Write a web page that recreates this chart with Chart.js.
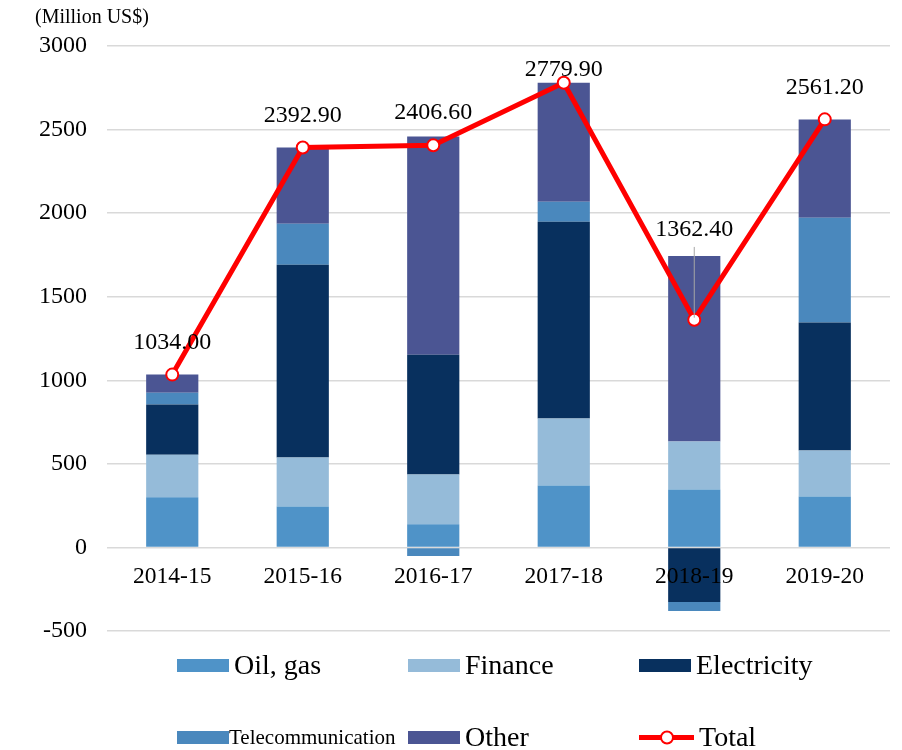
<!DOCTYPE html>
<html>
<head>
<meta charset="utf-8">
<script src="https://cdn.jsdelivr.net/npm/chart.js@4/dist/chart.umd.min.js"></script>
<style>
  body { margin: 0; background: #fff; }
  #wrap { position: relative; width: 902px; height: 750px; }
</style>
</head>
<body>
<div id="wrap"><canvas id="chartFdi"></canvas></div>
<script>
// ---- data (Million US$) ----
const anos = ["2014-15", "2015-16", "2016-17", "2017-18", "2018-19", "2019-20"];
const oilGas = [300, 245, 138, 371, 347, 305];
const finance = [255, 293, 299, 400, 287, 275];
const electricity = [300, 1153, 716, 1178, -327, 765];
const telecom = [70, 246, -52, 119, -54, 628];
const other = [109, 456, 1306, 712, 1110, 588];
const total = [1034.0, 2392.9, 2406.6, 2779.9, 1362.4, 2561.2];
const yTicks = [-500, 0, 500, 1000, 1500, 2000, 2500, 3000];

const serif = "'Liberation Serif', 'Times New Roman', serif";

// ---- plugin: titulo do eixo, rotulos x, rotulos do total e legenda ----
const extras = {
  id: "extras",
  afterDatasetsDraw(chart) {
    const c = chart.ctx;
    const xs = chart.scales.x;
    const ys = chart.scales.y;
    const area = chart.chartArea;
    c.save();

    // titulo do eixo y
    c.fillStyle = "#000";
    c.font = "20px " + serif;
    c.textAlign = "left";
    c.textBaseline = "middle";
    c.fillText("(Million US$)", 35, 18);

    // categorias logo abaixo do zero
    c.font = "23.5px " + serif;
    c.textAlign = "center";
    const y0 = ys.getPixelForValue(0);
    anos.forEach((a, i) => c.fillText(a, xs.getPixelForValue(i), y0 + 29));

    // rotulos do total
    const barras = [oilGas, finance, electricity, telecom, other];
    const meta = chart.getDatasetMeta(5);
    meta.data.forEach((pt, i) => {
      let topo = 0;
      barras.forEach((s) => { if (s[i] > 0) topo += s[i]; });
      const yTopo = ys.getPixelForValue(topo);
      let ly;
      if (pt.y - yTopo > 15) {
        ly = yTopo - 26;
        c.strokeStyle = "#a6a6a6";
        c.lineWidth = 1;
        c.beginPath();
        c.moveTo(pt.x, yTopo - 9);
        c.lineTo(pt.x, pt.y - 2);
        c.stroke();
      } else {
        ly = Math.max(pt.y - 32, area.top + 24);
      }
      c.fillStyle = "#000";
      c.font = "24px " + serif;
      c.fillText(total[i].toFixed(2), pt.x, ly);
    });

    c.restore();
  },
  afterDraw(chart) {
    const c = chart.ctx;
    const ds = chart.data.datasets;
    const cols = [177, 408, 639];
    const rows = [665.5, 737.5];
    c.save();
    c.textAlign = "left";
    c.textBaseline = "middle";
    ds.forEach((d, i) => {
      const x = cols[i % 3];
      const y = rows[Math.floor(i / 3)];
      if (d.type === "line") {
        c.strokeStyle = d.borderColor;
        c.lineWidth = 5;
        c.beginPath();
        c.moveTo(x, y);
        c.lineTo(x + 55, y);
        c.stroke();
        c.fillStyle = "#fff";
        c.lineWidth = 2;
        c.beginPath();
        c.arc(x + 28, y, 6, 0, Math.PI * 2);
        c.fill();
        c.stroke();
      } else {
        c.fillStyle = d.backgroundColor;
        c.fillRect(x, y - 6.5, 52, 13);
      }
      c.fillStyle = "#000";
      const pequeno = d.label === "Telecommunication";
      c.font = (pequeno ? "21px " : "28px ") + serif;
      let tx = x + 57;
      if (pequeno) tx = x + 52;
      if (d.type === "line") tx = x + 60;
      c.fillText(d.label, tx, y + 1);
    });
    c.restore();
  },
};

const ctx = document.getElementById("chartFdi");

new Chart(ctx, {
  type: "bar",
  data: {
    labels: anos,
    datasets: [
      { label: "Oil, gas", data: oilGas, backgroundColor: "#4F93C8", order: 1 },
      { label: "Finance", data: finance, backgroundColor: "#95BBD9", order: 1 },
      { label: "Electricity", data: electricity, backgroundColor: "#08305E", order: 1 },
      { label: "Telecommunication", data: telecom, backgroundColor: "#4A88BD", order: 1 },
      { label: "Other", data: other, backgroundColor: "#4B5593", order: 1 },
      {
        type: "line",
        label: "Total",
        data: total,
        yAxisID: "y2",
        borderColor: "#FF0000",
        borderWidth: 5,
        pointRadius: 6,
        pointBorderWidth: 2,
        pointBackgroundColor: "#fff",
        pointBorderColor: "#FF0000",
        tension: 0,
        order: 0,
      },
    ],
  },
  options: {
    responsive: true,
    maintainAspectRatio: false,
    animation: false,
    layout: { padding: { top: 46, left: 19, right: 12, bottom: 119 } },
    datasets: { bar: { barPercentage: 0.4, categoryPercentage: 1 } },
    plugins: { legend: { display: false }, tooltip: { enabled: false } },
    scales: {
      x: { stacked: true, display: false },
      y: {
        stacked: true,
        min: -500,
        max: 3000,
        afterBuildTicks: (axis) => { axis.ticks = yTicks.map((v) => ({ value: v })); },
        border: { display: false },
        grid: { color: "#d9d9d9", lineWidth: 1.5, drawTicks: false },
        ticks: {
          color: "#000",
          padding: 20,
          font: { family: serif, size: 24 },
          callback: (v) => String(v),
        },
      },
      y2: { display: false, min: -500, max: 3000 },
    },
  },
  plugins: [extras],
});
</script>
</body>
</html>
